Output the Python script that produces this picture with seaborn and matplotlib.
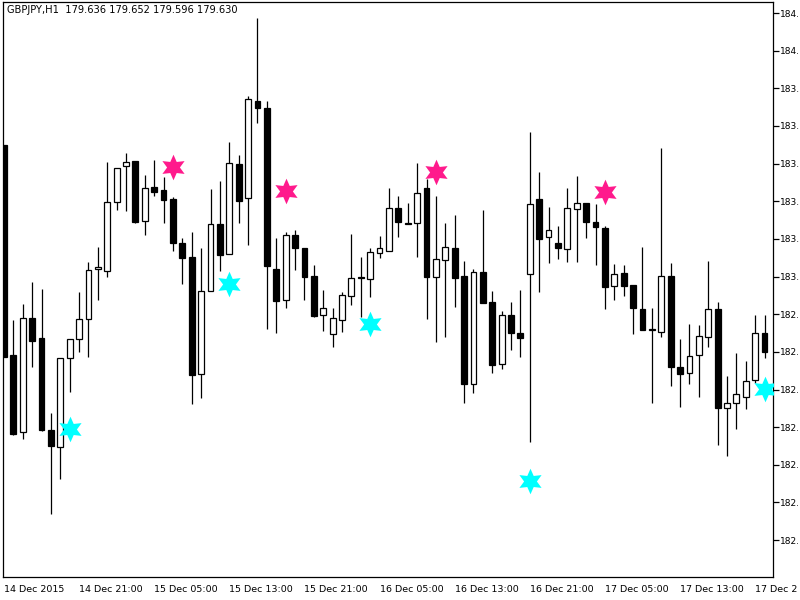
import matplotlib
matplotlib.use("Agg")
import matplotlib.pyplot as plt
import numpy as np
import pandas as pd
import seaborn as sns

# GBPJPY H1 bars
opens = [183.634, 182.797, 182.490, 182.944, 182.865, 182.498, 182.430, 182.785, 182.861, 182.940,
         183.140, 183.132, 183.407, 183.550, 183.570, 183.331, 183.467, 183.455, 183.419, 183.243,
         183.188, 182.721, 183.052, 183.319, 183.200, 183.558, 183.423, 183.809, 183.782, 183.140,
         183.016, 183.275, 183.223, 183.112, 182.956, 182.881, 182.936, 183.032, 183.108, 183.100,
         183.204, 183.212, 183.383, 183.323, 183.323, 183.463, 183.108, 183.176, 183.223, 183.112,
         182.681, 183.128, 183.008, 182.761, 182.956, 182.885, 183.120, 183.419, 183.267, 183.243,
         183.219, 183.379, 183.403, 183.327, 183.303, 183.072, 183.124, 183.076, 182.980, 182.901,
         182.889, 183.112, 182.749, 182.725, 182.797, 182.869, 182.980, 182.586, 182.606, 182.630,
         182.697, 182.885]
highs = [183.634, 182.936, 183.000, 183.088, 183.060, 182.566, 182.785, 182.861, 183.048, 183.168,
         183.227, 183.566, 183.542, 183.602, 183.570, 183.514, 183.574, 183.506, 183.427, 183.263,
         183.287, 183.223, 183.459, 183.491, 183.646, 183.594, 183.829, 184.140, 183.809, 183.263,
         183.287, 183.295, 183.223, 183.156, 183.056, 182.984, 183.048, 183.279, 183.188, 183.223,
         183.271, 183.463, 183.431, 183.403, 183.562, 183.499, 183.431, 183.323, 183.355, 183.172,
         183.140, 183.375, 183.052, 182.972, 183.008, 183.056, 183.686, 183.526, 183.387, 183.311,
         183.463, 183.510, 183.403, 183.399, 183.311, 183.160, 183.156, 183.076, 183.227, 182.984,
         183.622, 183.164, 182.861, 182.921, 182.917, 183.172, 183.008, 182.713, 182.805, 182.773,
         182.956, 182.956]
lows = [182.789, 182.478, 182.462, 182.749, 182.494, 182.163, 182.303, 182.649, 182.809, 182.789,
        183.016, 183.108, 183.375, 183.371, 183.322, 183.275, 183.431, 183.323, 183.212, 183.080,
        182.602, 182.626, 183.052, 183.132, 183.200, 183.323, 183.235, 183.722, 182.901, 182.885,
        182.984, 183.136, 183.016, 182.948, 182.893, 182.829, 182.889, 182.996, 182.948, 183.028,
        183.184, 183.212, 183.267, 183.319, 183.188, 182.940, 182.849, 182.869, 182.988, 182.606,
        182.646, 183.004, 182.725, 182.741, 182.817, 182.789, 182.450, 183.048, 183.164, 183.180,
        183.168, 183.168, 183.263, 183.156, 182.980, 183.016, 183.032, 182.881, 182.897, 182.606,
        182.869, 182.673, 182.590, 182.681, 182.630, 182.829, 182.438, 182.394, 182.502, 182.582,
        182.685, 182.785]
closes = [182.789, 182.482, 182.944, 182.853, 182.498, 182.434, 182.785, 182.861, 182.940, 183.136,
          183.148, 183.407, 183.542, 183.566, 183.327, 183.463, 183.447, 183.415, 183.243, 183.184,
          182.717, 183.052, 183.319, 183.196, 183.562, 183.411, 183.817, 183.782, 183.152, 183.012,
          183.275, 183.223, 183.108, 182.952, 182.984, 182.944, 183.036, 183.104, 183.106, 183.208,
          183.223, 183.383, 183.327, 183.321, 183.443, 183.108, 183.180, 183.227, 183.104, 182.681,
          183.128, 183.004, 182.757, 182.956, 182.885, 182.865, 183.399, 183.259, 183.295, 183.223,
          183.383, 183.403, 183.327, 183.307, 183.068, 183.120, 183.072, 182.984, 182.897, 182.899,
          183.112, 182.749, 182.721, 182.793, 182.873, 182.980, 182.586, 182.606, 182.642, 182.693,
          182.885, 182.809]

# indicator arrows (stars)
sell_bars = [18, 30, 46, 64]
sell_prices = [183.546, 183.451, 183.526, 183.447]
buy_bars = [7, 24, 39, 56, 81]
buy_prices = [182.502, 183.080, 182.921, 182.295, 182.661]

# labels as they show at the chart's edge
time_labels = ["14 Dec 2015", "14 Dec 21:00", "15 Dec 05:00", "15 Dec 13:00", "15 Dec 21:00",
               "16 Dec 05:00", "16 Dec 13:00", "16 Dec 21:00", "17 Dec 05:00", "17 Dec 13:00",
               "17 Dec 2"]
price_ticks = [184.16, 184.01, 183.86, 183.71, 183.56, 183.41, 183.26, 183.11,
               182.96, 182.81, 182.66, 182.51, 182.36, 182.21, 182.06]
header = "GBPJPY,H1  179.636 179.652 179.596 179.630"

df = pd.DataFrame({"open": opens, "high": highs, "low": lows, "close": closes})
df["bar"] = np.arange(len(df))
df["bottom"] = df[["open", "close"]].min(axis=1)
df["height"] = (df["close"] - df["open"]).abs()
up = df["close"] > df["open"]

sns.set_style("white")
plt.rcParams["font.family"] = ["DejaVu Sans"]

fig = plt.figure(figsize=(8, 6), dpi=100)
ax = fig.add_axes([3 / 800, 23 / 600, 770 / 800, 575 / 600])

ax.vlines(df["bar"], df["low"], df["high"], color="black", lw=0.9, zorder=1)
ax.bar(df["bar"][up], df["height"][up], bottom=df["bottom"][up], width=0.62,
       color="white", edgecolor="black", linewidth=0.9, zorder=2)
ax.bar(df["bar"][~up], df["height"][~up], bottom=df["bottom"][~up], width=0.62,
       color="black", edgecolor="black", linewidth=0.9, zorder=2)

sns.scatterplot(x=sell_bars, y=sell_prices, marker=(6, 1, 0), s=340, color="#ff1a8c",
                linewidth=0, ax=ax, zorder=3)
sns.scatterplot(x=buy_bars, y=buy_prices, marker=(6, 1, 0), s=340, color="#00ffff",
                linewidth=0, ax=ax, zorder=3)

ax.set_xlim(-0.1, 81.9)
ax.set_ylim(181.913, 184.204)

for side in ["top", "bottom", "left", "right"]:
    ax.spines[side].set_visible(True)
    ax.spines[side].set_color("black")
    ax.spines[side].set_linewidth(0.9)

ax.yaxis.tick_right()
ax.set_yticks(price_ticks)
ax.set_yticklabels([f"{int(v)}." for v in price_ticks])
ax.set_xticks(np.arange(0, 81, 8))
ax.set_xticklabels(time_labels)
for lbl in ax.get_xticklabels():
    lbl.set_ha("left")
ax.tick_params(axis="both", direction="out", length=4, width=0.9, color="black",
               labelsize=6.8, labelcolor="black")
ax.tick_params(axis="y", pad=0.8, labelsize=6.5)
ax.tick_params(axis="x", pad=1.5)
ax.set_xlabel("")
ax.set_ylabel("")

ax.text(0.005, 0.994, header, transform=ax.transAxes, ha="left", va="top",
        fontsize=7.1, color="black")

fig.savefig("out.png", dpi=100)
